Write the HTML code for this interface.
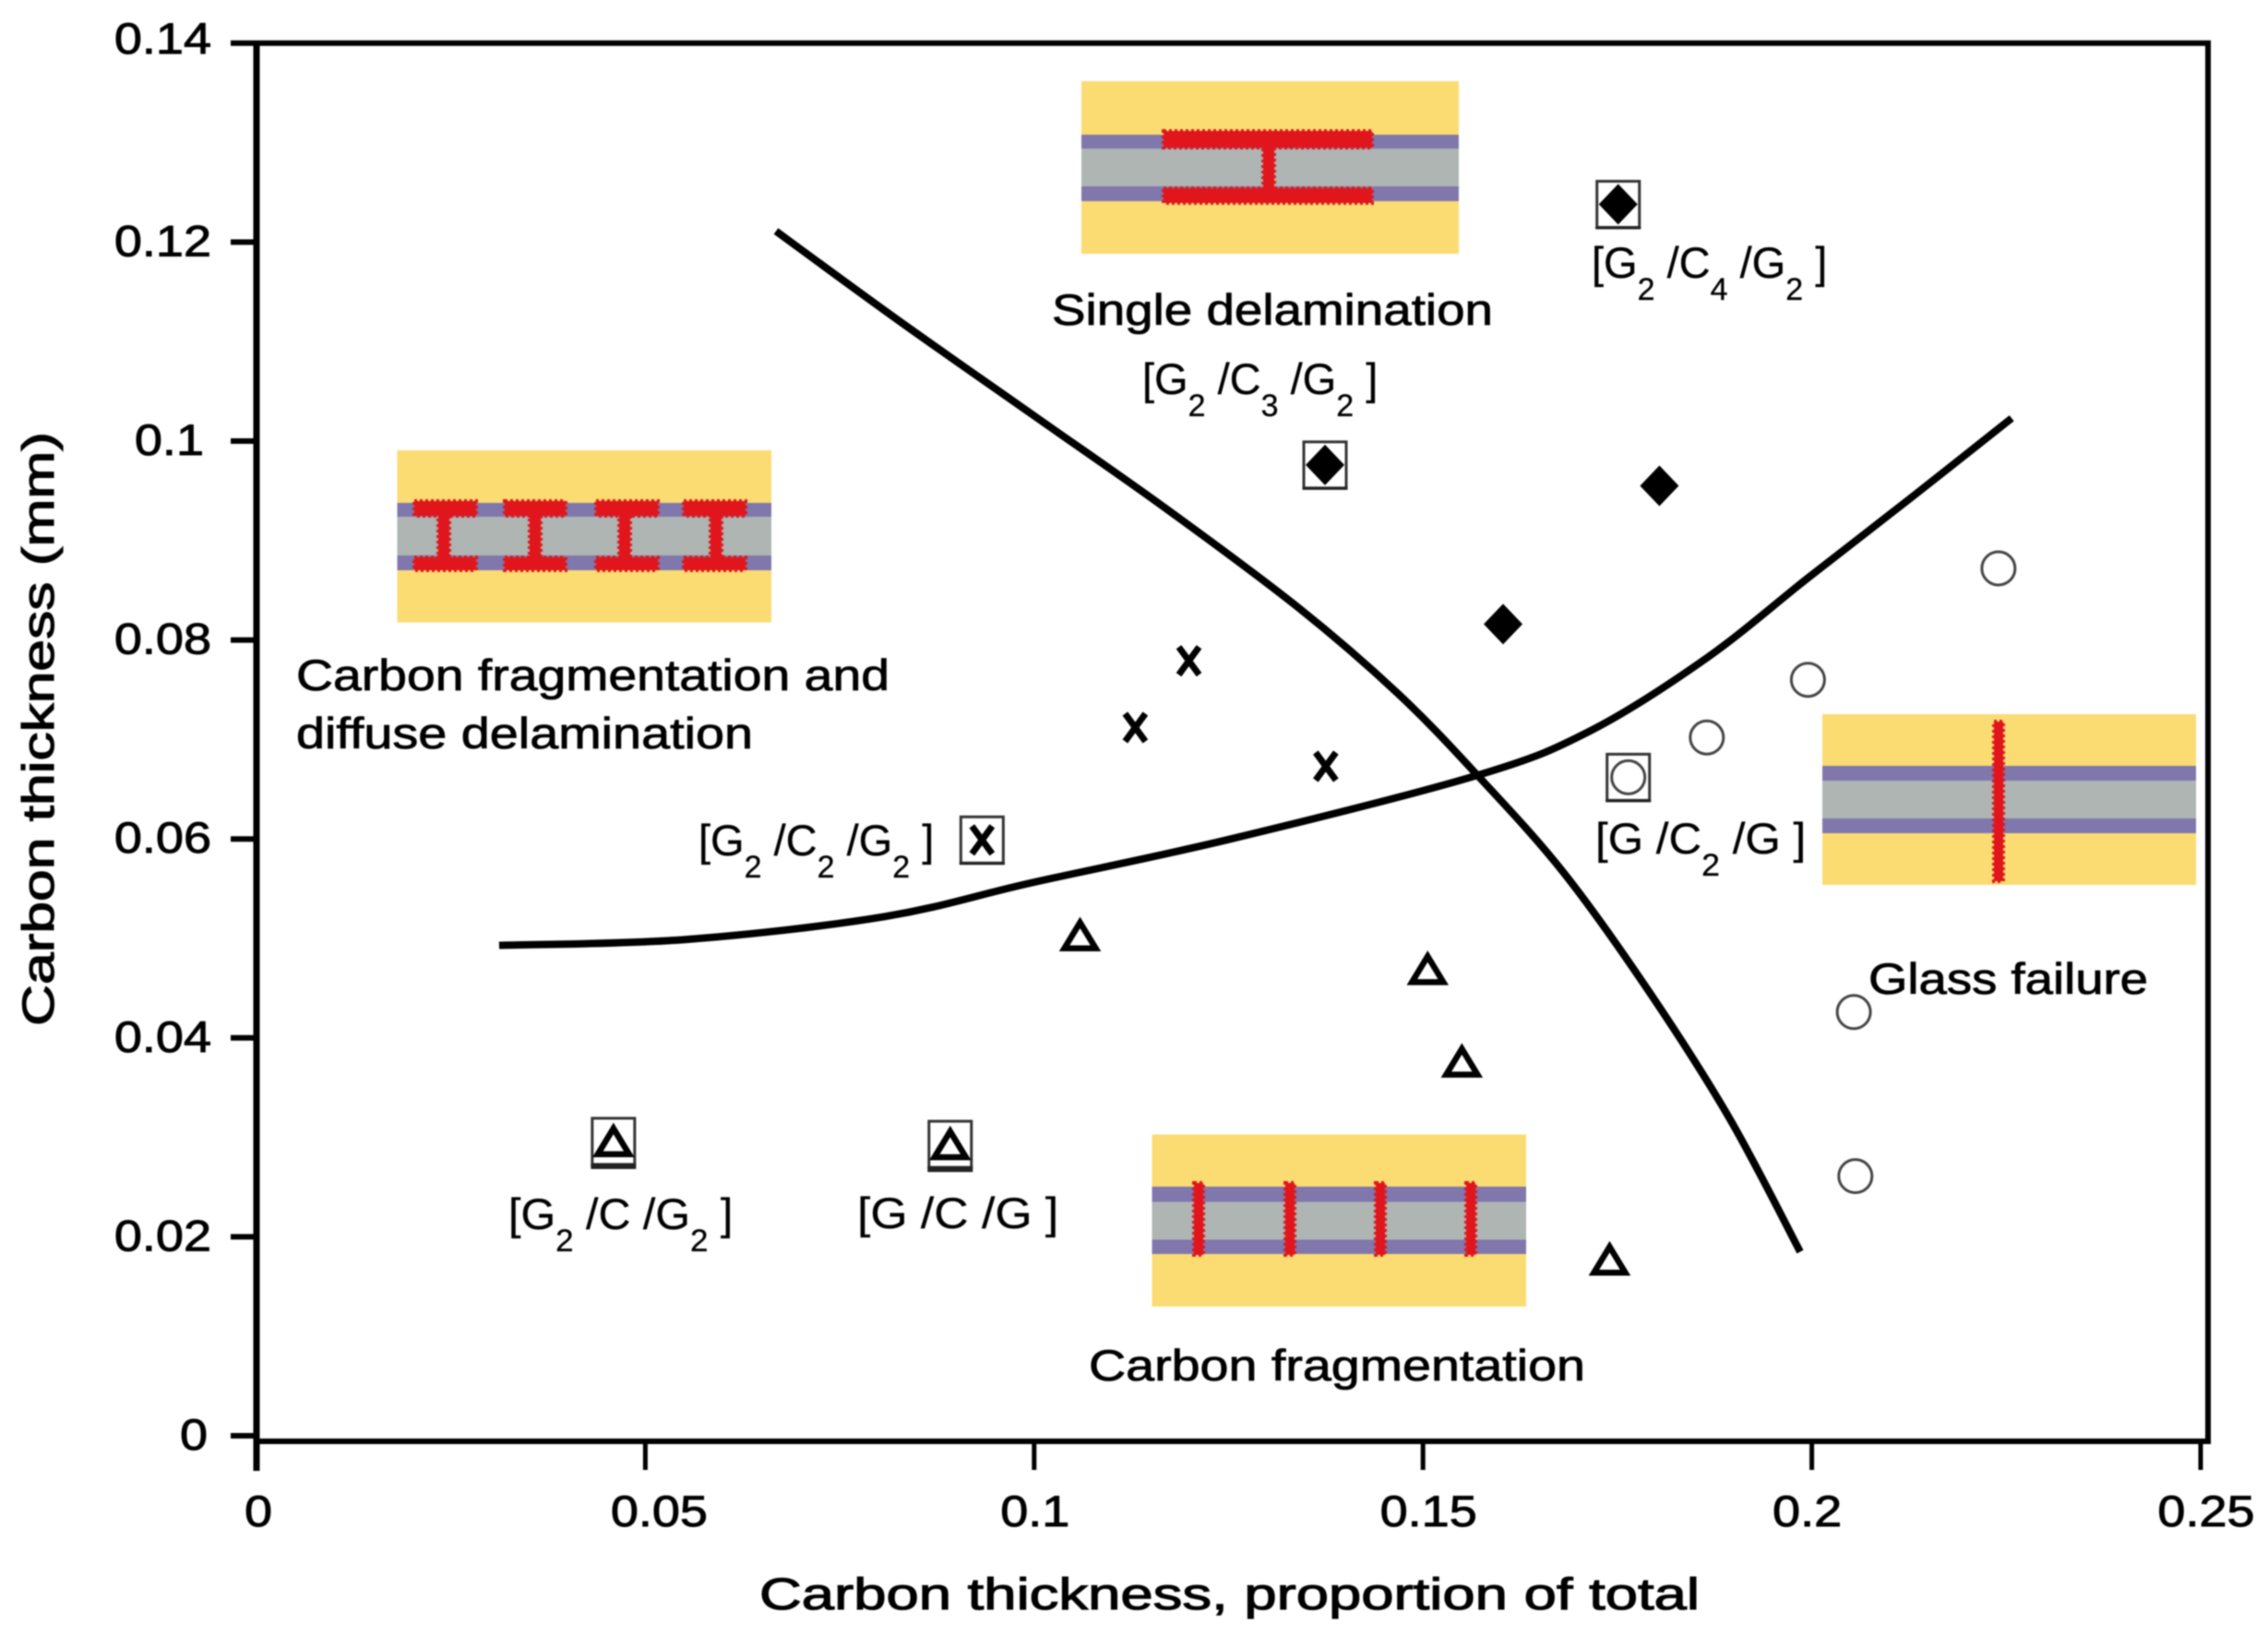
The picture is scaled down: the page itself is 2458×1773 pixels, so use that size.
<!DOCTYPE html>
<html lang="en">
<head>
<meta charset="utf-8">
<title>Carbon thickness failure-mode map</title>
<style>
html,body{margin:0;padding:0;background:#fff;width:2458px;height:1773px;overflow:hidden}
svg{display:block;filter:blur(0.7px)}
text{font-family:"Liberation Sans",sans-serif;fill:#000;white-space:pre}
.lab{font-size:47px;stroke:#000;stroke-width:.8px}
.tick{font-size:47px;stroke:#000;stroke-width:.9px}
.title{font-size:48px;stroke:#000;stroke-width:1.1px}
.code{font-size:47px;fill:#000;stroke:#000;stroke-width:.3px}
.sub{font-size:34px}
.y{fill:#FADC73}.p{fill:#8077AC}.g{fill:#AEB5B2}
.r{fill:#E0161C;stroke:#E0161C;stroke-width:4;stroke-dasharray:3 3}
</style>
</head>
<body>
<svg id="chart" xmlns="http://www.w3.org/2000/svg" width="2458" height="1773" viewBox="0 0 2458 1773">
  <rect x="0" y="0" width="2458" height="1773" fill="#fff"/>

  <g>
    <rect class="y" x="430.5" y="488" width="405.5" height="186.5"/>
    <rect class="p" x="430.5" y="545" width="405.5" height="73"/>
    <rect class="g" x="430.5" y="560" width="405.5" height="42"/>
    <g>
      <rect class="r" x="449" y="543" width="67" height="16"/><rect class="r" x="449" y="604" width="67" height="14"/><rect class="r" x="475" y="559" width="12" height="45"/>
      <rect class="r" x="547" y="543" width="66" height="16"/><rect class="r" x="547" y="604" width="66" height="14"/><rect class="r" x="574" y="559" width="12" height="45"/>
      <rect class="r" x="646" y="543" width="67" height="16"/><rect class="r" x="646" y="604" width="67" height="14"/><rect class="r" x="671" y="559" width="12" height="45"/>
      <rect class="r" x="741" y="543" width="67" height="16"/><rect class="r" x="741" y="604" width="67" height="14"/><rect class="r" x="770" y="559" width="12" height="45"/>
    </g>
  </g>

  <g>
    <rect class="y" x="1172" y="88" width="409" height="187"/>
    <rect class="p" x="1172" y="146" width="409" height="72"/>
    <rect class="g" x="1172" y="161" width="409" height="41"/>
    <g>
      <rect class="r" x="1261" y="142" width="226" height="18"/>
      <rect class="r" x="1261" y="204" width="226" height="16"/>
      <rect class="r" x="1369" y="160" width="12" height="44"/>
    </g>
  </g>

  <g>
    <rect class="y" x="1975" y="774" width="405" height="185"/>
    <rect class="p" x="1975" y="830" width="405" height="73"/>
    <rect class="g" x="1975" y="846" width="405" height="41"/>
    <rect class="r" x="2161" y="782" width="10" height="173"/>
  </g>

  <g>
    <rect class="y" x="1248.5" y="1229.5" width="405.5" height="186.5"/>
    <rect class="p" x="1248.5" y="1286" width="405.5" height="73"/>
    <rect class="g" x="1248.5" y="1302.5" width="405.5" height="41"/>
    <g>
      <rect class="r" x="1294" y="1282" width="10" height="78"/>
      <rect class="r" x="1393" y="1282" width="10" height="78"/>
      <rect class="r" x="1491" y="1282" width="10" height="78"/>
      <rect class="r" x="1589" y="1282" width="10" height="78"/>
    </g>
  </g>

  <g id="curves"></g>
  <g id="marks"></g>
  <g id="axes"></g>

  <text class="title" x="823" y="1744" textLength="1019" lengthAdjust="spacingAndGlyphs">Carbon thickness, proportion of total</text>
  <text class="title" transform="translate(58,1112) rotate(-90)" textLength="644" lengthAdjust="spacingAndGlyphs">Carbon thickness (mm)</text>

  <text class="lab" x="1140" y="352" textLength="478" lengthAdjust="spacingAndGlyphs">Single delamination</text>
  <text class="lab" x="321" y="748" textLength="643" lengthAdjust="spacingAndGlyphs">Carbon fragmentation and</text>
  <text class="lab" x="321" y="811" textLength="495" lengthAdjust="spacingAndGlyphs">diffuse delamination</text>
  <text class="lab" x="1180" y="1496" textLength="538" lengthAdjust="spacingAndGlyphs">Carbon fragmentation</text>
  <text class="lab" x="2025" y="1077" textLength="303" lengthAdjust="spacingAndGlyphs">Glass failure</text>

  <text class="code" transform="translate(1238,427)"><tspan>[G</tspan><tspan class="sub" dy="24">2</tspan><tspan dy="-24"> /C</tspan><tspan class="sub" dy="24">3</tspan><tspan dy="-24"> /G</tspan><tspan class="sub" dy="24">2</tspan><tspan dy="-24"> ]</tspan></text>
  <text class="code" transform="translate(1725,301)"><tspan>[G</tspan><tspan class="sub" dy="24">2</tspan><tspan dy="-24"> /C</tspan><tspan class="sub" dy="24">4</tspan><tspan dy="-24"> /G</tspan><tspan class="sub" dy="24">2</tspan><tspan dy="-24"> ]</tspan></text>
  <text class="code" transform="translate(757,927)"><tspan>[G</tspan><tspan class="sub" dy="24">2</tspan><tspan dy="-24"> /C</tspan><tspan class="sub" dy="24">2</tspan><tspan dy="-24"> /G</tspan><tspan class="sub" dy="24">2</tspan><tspan dy="-24"> ]</tspan></text>
  <text class="code" transform="translate(1729,925) scale(1.05,1)"><tspan>[G /C</tspan><tspan class="sub" dy="24">2</tspan><tspan dy="-24"> /G ]</tspan></text>
  <text class="code" transform="translate(551,1332) scale(1.03,1)"><tspan>[G</tspan><tspan class="sub" dy="24">2</tspan><tspan dy="-24"> /C /G</tspan><tspan class="sub" dy="24">2</tspan><tspan dy="-24"> ]</tspan></text>
  <text class="code" transform="translate(929,1331) scale(1.1,1)">[G /C /G ]</text>
</svg>

<script>
// Axis tick values and labels
const xTicks = [0, 0.05, 0.1, 0.15, 0.2, 0.25];
const xTickLabels = ['0', '0.05', '0.1', '0.15', '0.2', '0.25'];
const yTicks = [0, 0.02, 0.04, 0.06, 0.08, 0.1, 0.12, 0.14];
const yTickLabels = ['0', '0.02', '0.04', '0.06', '0.08', '0.1', '0.12', '0.14'];

// Single delamination (filled diamonds)
const diamondX = [0.1751, 0.1374, 0.1804, 0.1603];
const diamondY = [0.1238, 0.0976, 0.0955, 0.0816];
const diamondBoxed = [true, true, false, false];

// Carbon fragmentation and diffuse delamination (crosses)
const crossX = [0.1199, 0.1130, 0.1375, 0.0933];
const crossY = [0.0779, 0.0712, 0.0673, 0.0599];
const crossBoxed = [false, false, false, true];

// Carbon fragmentation (open triangles)
const triangleX = [0.1059, 0.1506, 0.1550, 0.1740, 0.0459, 0.0892];
const triangleY = [0.0503, 0.0469, 0.0376, 0.0177, 0.0296, 0.0293];
const triangleBoxed = [false, false, false, false, true, true];

// Glass failure (open circles)
const circleX = [0.2240, 0.1995, 0.1865, 0.1764, 0.2054, 0.2056];
const circleY = [0.0872, 0.0760, 0.0702, 0.0662, 0.0426, 0.0261];
const circleBoxed = [false, false, false, true, false, false];

// Boundary curves
const curveAX = [0.0668, 0.0826, 0.0997, 0.1168, 0.1339, 0.1468, 0.1570, 0.1681, 0.1792, 0.1895, 0.1985];
const curveAY = [0.1211, 0.1121, 0.1027, 0.0933, 0.0833, 0.0746, 0.0664, 0.0566, 0.0445, 0.0318, 0.0185];
const curveBX = [0.0312, 0.0553, 0.0808, 0.0997, 0.1253, 0.1570, 0.1716, 0.1865, 0.1996, 0.2126, 0.2257];
const curveBY = [0.0493, 0.0499, 0.0522, 0.0556, 0.0600, 0.0664, 0.0709, 0.0782, 0.0863, 0.0942, 0.1023];

// Small nudges for label placement, keyed by printed label
const xLabelShift = {'0': 2, '0.05': 15, '0.1': 1, '0.15': 6, '0.2': -5, '0.25': 6};
const yLabelEnd = {'0': 225, '0.1': 221};

const SVG_NS = 'http://www.w3.org/2000/svg';
const sx = v => 278 + v * 8428;
const sy = v => 1556 - v * 10780;

function make(tag, attrs, parent) {
  const node = document.createElementNS(SVG_NS, tag);
  for (const k in attrs) node.setAttribute(k, attrs[k]);
  parent.appendChild(node);
  return node;
}

function smoothPath(xs, ys) {
  const p = xs.map((x, i) => [sx(x), sy(ys[i])]);
  let d = 'M' + p[0][0] + ' ' + p[0][1];
  for (let i = 0; i < p.length - 1; i++) {
    const a = p[Math.max(i - 1, 0)], b = p[i], c = p[i + 1], e = p[Math.min(i + 2, p.length - 1)];
    d += ' C' + (b[0] + (c[0] - a[0]) / 6) + ' ' + (b[1] + (c[1] - a[1]) / 6) + ' ' +
         (c[0] - (e[0] - b[0]) / 6) + ' ' + (c[1] - (e[1] - b[1]) / 6) + ' ' + c[0] + ' ' + c[1];
  }
  return d;
}

const curves = document.getElementById('curves');
const marks = document.getElementById('marks');
const axes = document.getElementById('axes');

const curveA = make('path', {d: smoothPath(curveAX, curveAY), fill: 'none', stroke: '#000', 'stroke-width': 8}, curves);


const curveB = make('path', {d: smoothPath(curveBX, curveBY), fill: 'none', stroke: '#000', 'stroke-width': 8}, curves);



function drawBox(cx, cy, baseHeight) {
  const box = make('rect', {x: cx - 23, y: cy - 25, width: 46, height: 50, fill: 'none', stroke: '#333', 'stroke-width': 3}, marks);
  
  
  const base = make('rect', {x: cx - 24.5, y: cy + 24, width: 49, height: baseHeight, fill: '#222'}, marks);
  
  
}

diamondX.forEach((v, i) => {
  const cx = sx(v), cy = sy(diamondY[i]);
  if (diamondBoxed[i]) drawBox(cx, cy, 3);
  const pt = make('path', {d: `M${cx} ${cy - 22} L${cx + 21} ${cy} L${cx} ${cy + 22} L${cx - 21} ${cy} Z`, fill: '#000'}, marks);
  
  
});

crossX.forEach((v, i) => {
  const cx = sx(v), cy = sy(crossY[i]);
  if (crossBoxed[i]) drawBox(cx, cy, 3);
  const pt = make('path', {d: `M${cx - 11} ${cy - 15} L${cx + 11} ${cy + 15} M${cx + 11} ${cy - 15} L${cx - 11} ${cy + 15}`, fill: 'none', stroke: '#000', 'stroke-width': 7}, marks);
  
  
});

triangleX.forEach((v, i) => {
  const cx = sx(v), cy = sy(triangleY[i]);
  if (triangleBoxed[i]) drawBox(cx, cy, 6);
  const pt = make('path', {d: `M${cx} ${cy - 14} L${cx + 17} ${cy + 14} L${cx - 17} ${cy + 14} Z`, fill: 'none', stroke: '#000', 'stroke-width': 6.5, 'stroke-linejoin': 'miter'}, marks);
  
  
});

circleX.forEach((v, i) => {
  const cx = sx(v), cy = sy(circleY[i]);
  if (circleBoxed[i]) drawBox(cx, cy, 3);
  const pt = make('circle', {cx: cx, cy: cy, r: 18, fill: '#fff', stroke: '#444', 'stroke-width': 3}, marks);
  
  
});

// Frame
const frameLeft = make('line', {x1: sx(0), x2: sx(0), y1: 44, y2: 1594, stroke: '#000', 'stroke-width': 7}, axes);


const frameBottom = make('line', {x1: sx(0), x2: 2396, y1: 1562, y2: 1562, stroke: '#000', 'stroke-width': 6}, axes);


const frameTop = make('line', {x1: sx(0), x2: 2396, y1: sy(0.14), y2: sy(0.14), stroke: '#000', 'stroke-width': 6}, axes);


const frameRight = make('line', {x1: 2393, x2: 2393, y1: 44, y2: 1565, stroke: '#000', 'stroke-width': 6}, axes);



xTicks.forEach((v, i) => {
  const t = make('line', {x1: sx(v), x2: sx(v), y1: 1562, y2: 1593, stroke: '#000', 'stroke-width': 5}, axes);
  
  
  const shift = xLabelShift[xTickLabels[i]];
  const lbl = make('text', {class: 'tick', 'text-anchor': 'middle', transform: `translate(${sx(v) + shift},1654) scale(1.15,1)`}, axes);
  lbl.textContent = xTickLabels[i];
  
  
});

yTicks.forEach((v, i) => {
  const t = make('line', {x1: 250, x2: sx(0), y1: sy(v), y2: sy(v), stroke: '#000', 'stroke-width': 6}, axes);
  
  
  const endX = yLabelEnd[yTickLabels[i]] || 229;
  const nudge = yTickLabels[i] === '0.14' ? 11 : 15;
  const lbl = make('text', {class: 'tick', 'text-anchor': 'end', transform: `translate(${endX},${sy(v) + nudge}) scale(1.15,1)`}, axes);
  lbl.textContent = yTickLabels[i];
  
  
});
</script>
</body>
</html>
